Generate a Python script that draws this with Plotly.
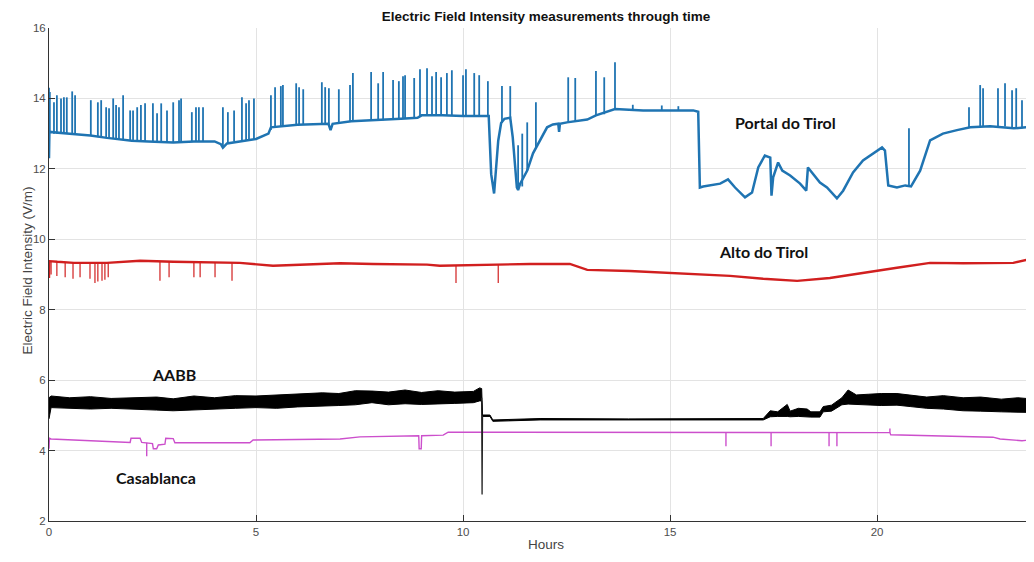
import plotly.graph_objects as go

# ---------------- data ----------------
# Portal do Tirol base line
portal_hours = [0.0, 0.01, 0.5, 1.0, 1.4, 2.0, 2.4, 3.0, 3.5, 4.0, 4.15, 4.2, 4.3, 4.7, 5.0, 5.3, 5.36,
                6.0, 6.5, 6.75, 6.8, 6.85, 7.3, 8.0, 8.5, 8.9, 9.0, 9.5, 10.0, 10.62, 10.68, 10.75,
                10.8, 10.85, 10.92, 11.0, 11.14, 11.2, 11.3, 11.33, 11.38, 11.55, 11.69, 11.91, 12.03,
                12.17, 12.3, 12.32, 12.34, 12.51, 13.0, 13.21, 13.67, 14.35, 15.0, 15.56, 15.68, 15.72,
                15.8, 15.97, 16.21, 16.4, 16.57, 16.81, 16.98, 17.13, 17.29, 17.42, 17.45, 17.49, 17.61,
                17.71, 17.9, 18.14, 18.29, 18.33, 18.45, 18.62, 18.79, 19.03, 19.18, 19.42, 19.66, 19.9,
                20.12, 20.19, 20.27, 20.48, 20.68, 20.82, 21.04, 21.28, 21.59, 21.93, 22.25, 22.73,
                23.3, 23.8]
portal_values = [12.3, 13.05, 13.0, 12.95, 12.88, 12.8, 12.78, 12.75, 12.78, 12.78, 12.7, 12.6, 12.72, 12.8,
                 12.85, 13.0, 13.18, 13.25, 13.28, 13.28, 13.1, 13.28, 13.35, 13.38, 13.42, 13.45, 13.52,
                 13.52, 13.5, 13.5, 11.85, 11.3, 12.2, 12.8, 13.3, 13.42, 13.45, 12.9, 11.47, 11.4, 11.58,
                 11.95, 12.44, 12.9, 13.18, 13.26, 13.28, 13.05, 13.28, 13.32, 13.4, 13.52, 13.7, 13.66,
                 13.66, 13.66, 13.62, 11.47, 11.5, 11.53, 11.58, 11.7, 11.47, 11.19, 11.33, 12.04, 12.38,
                 12.32, 11.24, 11.76, 12.18, 11.95, 11.81, 11.58, 11.38, 12.04, 11.87, 11.61, 11.47, 11.16,
                 11.38, 11.9, 12.24, 12.44, 12.61, 12.52, 11.53, 11.47, 11.53, 11.5, 11.95, 12.81, 13.0,
                 13.1, 13.18, 13.21, 13.15, 13.2]
# Portal do Tirol spikes: hour, base, peak
portal_spike_hours = [0.0, 0.02, 0.12, 0.19, 0.29, 0.36, 0.43, 0.56, 0.63, 1.01, 1.18, 1.26, 1.38, 1.45, 1.55,
                      1.62, 1.69, 1.79, 1.96, 2.03, 2.13, 2.22, 2.32, 2.51, 2.61, 2.71, 2.85, 3.0, 3.14,
                      3.19, 3.45, 3.55, 3.62, 3.72, 4.2, 4.32, 4.47, 4.66, 4.76, 4.83, 4.95,
                      5.36, 5.46, 5.6, 5.65, 5.97, 6.04, 6.14, 6.59, 6.67, 6.76, 7.0, 7.27, 7.34, 7.78,
                      7.95, 8.07, 8.31, 8.45, 8.55, 8.6, 8.82, 8.96, 9.13, 9.25, 9.35, 9.47, 9.61, 9.73,
                      10.0, 10.07, 10.27, 10.39, 10.6,
                      10.94, 11.14, 11.33, 11.43, 11.55, 11.76, 12.54, 12.71, 13.21, 13.41, 13.67, 14.1,
                      14.8, 15.2, 20.77, 22.22, 22.49, 22.56, 22.92, 23.09, 23.26, 23.36, 23.5, 23.62, 23.74]
portal_spike_bases = [13.05, 13.05, 13.0, 13.0, 13.0, 13.0, 13.0, 13.0, 13.0, 12.95, 12.9, 12.9, 12.88, 12.88,
                      12.85, 12.85, 12.85, 12.83, 12.8, 12.8, 12.8, 12.8, 12.78, 12.78, 12.78, 12.78,
                      12.75, 12.75, 12.75, 12.75, 12.78, 12.78, 12.78, 12.78, 12.65, 12.72, 12.78, 12.8,
                      12.8, 12.82, 12.85,
                      13.1, 13.18, 13.2, 13.2, 13.25, 13.25, 13.25, 13.28, 13.28, 13.28, 13.3, 13.35,
                      13.35, 13.36, 13.37, 13.38, 13.4, 13.42, 13.42, 13.42, 13.45, 13.5, 13.52, 13.52,
                      13.52, 13.52, 13.52, 13.52, 13.5, 13.5, 13.5, 13.5, 13.5,
                      13.3, 13.45, 11.4, 11.5, 11.95, 12.6, 13.33, 13.35, 13.5, 13.55, 13.68, 13.66,
                      13.66, 13.66, 11.5, 13.18, 13.2, 13.2, 13.2, 13.2, 13.18, 13.18, 13.15, 13.15, 13.2]
portal_spike_peaks = [14.3, 14.18, 13.89, 14.09, 14.0, 14.03, 14.03, 14.2, 14.09, 13.95, 13.89, 13.95, 13.75,
                      13.72, 14.0, 13.81, 13.75, 14.09, 13.66, 13.66, 13.75, 13.81, 13.86, 13.86, 13.58,
                      13.86, 13.66, 13.89, 13.95, 14.0, 13.61, 13.75, 13.75, 13.75, 13.75, 13.61, 13.66,
                      14.03, 13.86, 13.95, 14.0,
                      14.09, 14.32, 14.35, 14.38, 14.43, 14.32, 14.26, 14.46, 14.32, 14.29, 14.26, 14.38,
                      14.72, 14.75, 14.43, 14.75, 14.52, 14.49, 14.63, 14.66, 14.58, 14.83, 14.86, 14.63,
                      14.75, 14.6, 14.72, 14.8, 14.66, 14.83, 14.72, 14.66, 14.49,
                      14.35, 14.35, 12.67, 13.0, 13.32, 13.89, 14.6, 14.58, 14.78, 14.6, 15.03, 13.82,
                      13.8, 13.78, 13.15, 13.75, 14.38, 14.29, 14.29, 14.43, 14.23, 14.29, 13.95, 14.15,
                      14.38]

# Alto do Tirol base line
alto_hours = [0.0, 0.01, 0.2, 0.6, 1.4, 2.2, 3.0, 4.61, 5.41, 6.2, 7.03, 7.83, 8.5, 9.13, 9.44, 10.3,
              11.06, 11.62, 12.58, 13.0, 14.03, 15.0, 16.45, 17.25, 18.07, 18.86, 19.66, 20.48, 21.28,
              22.08, 23.29, 23.7, 23.8]
alto_values = [8.9, 9.38, 9.36, 9.33, 9.33, 9.39, 9.36, 9.33, 9.25, 9.28, 9.32, 9.3, 9.3, 9.28, 9.25, 9.27,
               9.27, 9.3, 9.3, 9.13, 9.1, 9.05, 8.96, 8.88, 8.82, 8.9, 9.05, 9.19, 9.33, 9.32, 9.33,
               9.44, 9.42]
# Alto do Tirol downward spikes: hour, base, low
alto_spike_hours = [0.05, 0.19, 0.39, 0.58, 0.75, 0.99, 1.11, 1.18, 1.28, 1.35, 1.43, 2.68, 2.9, 3.5, 3.65,
                    4.01, 4.42, 9.83, 10.85]
alto_spike_bases = [9.36, 9.36, 9.35, 9.34, 9.34, 9.33, 9.33, 9.33, 9.33, 9.33, 9.33, 9.37, 9.37, 9.36,
                    9.36, 9.35, 9.34, 9.27, 9.27]
alto_spike_lows = [9.0, 8.96, 8.92, 8.88, 8.92, 8.88, 8.76, 8.8, 8.82, 8.85, 8.92, 8.82, 8.92, 8.92, 8.92,
                   8.92, 8.82, 8.76, 8.76]

# AABB noise band: hour, top, bottom
aabb_hours = [0.0, 0.05, 0.5, 1.0, 1.5, 2.2, 2.6, 3.0, 3.5, 4.0, 4.5, 5.0, 5.5, 6.0, 6.6, 7.0, 7.4, 7.8,
              8.2, 8.6, 9.0, 9.4, 9.8, 10.25, 10.4, 10.45, 10.47, 10.65, 10.72, 11.86, 14.0, 17.25,
              17.42, 17.6, 17.83, 17.9, 18.1, 18.31, 18.4, 18.62, 18.7, 18.9, 19.15, 19.3, 19.5, 19.8,
              20.1, 20.48, 20.8, 21.2, 21.6, 22.08, 22.5, 23.0, 23.4, 23.8]
aabb_top = [5.5, 5.55, 5.5, 5.53, 5.48, 5.5, 5.52, 5.47, 5.55, 5.5, 5.56, 5.55, 5.58, 5.6, 5.64, 5.62, 5.7,
            5.69, 5.66, 5.72, 5.65, 5.7, 5.66, 5.68, 5.78, 5.76, 5.01, 5.01, 4.87, 4.91, 4.9, 4.91,
            5.13, 5.1, 5.31, 5.12, 5.2, 5.18, 5.1, 5.1, 5.25, 5.29, 5.5, 5.72, 5.58, 5.6, 5.62, 5.62,
            5.58, 5.52, 5.56, 5.5, 5.52, 5.46, 5.5, 5.46]
aabb_bottom = [4.9, 5.22, 5.2, 5.18, 5.2, 5.17, 5.15, 5.13, 5.17, 5.18, 5.2, 5.22, 5.2, 5.24, 5.27, 5.28,
               5.3, 5.36, 5.3, 5.33, 5.31, 5.33, 5.34, 5.36, 5.41, 5.41, 4.97, 4.97, 4.83, 4.87, 4.86,
               4.87, 4.96, 4.97, 4.97, 4.96, 4.97, 4.96, 4.95, 4.95, 5.1, 5.12, 5.3, 5.32, 5.3, 5.29,
               5.28, 5.29, 5.25, 5.2, 5.18, 5.13, 5.12, 5.1, 5.1, 5.08]
aabb_drop_hours = [10.45, 10.46, 10.47]
aabb_drop_values = [5.5, 2.75, 4.99]

# Casablanca base line
casa_hours = [0.0, 0.01, 0.05, 1.0, 1.96, 1.98, 2.2, 2.24, 2.44, 2.5, 2.52, 2.6, 2.64, 2.8, 2.82, 3.0,
              3.04, 4.85, 4.93, 7.03, 7.51, 8.89, 8.93, 8.94, 8.99, 9.0, 9.52, 9.64, 11.86, 15.0, 17.0,
              20.31, 20.33, 22.08, 22.8, 22.97, 23.5, 23.8]
casa_values = [4.05, 4.35, 4.33, 4.28, 4.23, 4.35, 4.35, 4.23, 4.2, 4.2, 4.05, 4.05, 4.16, 4.18, 4.35,
               4.34, 4.22, 4.22, 4.3, 4.33, 4.39, 4.42, 4.42, 4.05, 4.05, 4.42, 4.44, 4.52, 4.52, 4.5,
               4.51, 4.51, 4.45, 4.39, 4.38, 4.33, 4.28, 4.31]
casa_spike_hours = [2.36, 16.35, 17.44, 18.84, 19.03, 20.31]
casa_spike_bases = [4.22, 4.5, 4.5, 4.51, 4.51, 4.51]
casa_spike_tips = [3.84, 4.12, 4.12, 4.12, 4.12, 4.63]

x_ticks = [0, 5, 10, 15, 20]
y_ticks = [2, 4, 6, 8, 10, 12, 14, 16]

# series labels: text, hour, value
label_texts = ["Portal do Tirol", "Alto do Tirol", "AABB", "Casablanca"]
label_hours = [17.78, 17.25, 3.02, 2.58]
label_values = [13.32, 9.65, 6.17, 3.23]

BLUE = "#1f74b2"
RED = "#d11f1f"
BLACK = "#000000"
PINK = "#cc4fcc"

# the page body has an 8 px margin: the figure is sized so that it ends at the window edge
FIG_W, FIG_H = 1026, 554


def segments(xs, y0s, y1s):
    sx, sy = [], []
    for x, a, b in zip(xs, y0s, y1s):
        sx += [x, x, None]
        sy += [a, b, None]
    return sx, sy


fig = go.Figure()

# Casablanca
fig.add_trace(go.Scatter(x=casa_hours, y=casa_values, mode="lines",
                         line=dict(color=PINK, width=1.4), hoverinfo="skip"))
sx, sy = segments(casa_spike_hours, casa_spike_bases, casa_spike_tips)
fig.add_trace(go.Scatter(x=sx, y=sy, mode="lines", line=dict(color=PINK, width=1.4), hoverinfo="skip"))

# AABB band
fig.add_trace(go.Scatter(x=aabb_hours + aabb_hours[::-1], y=aabb_top + aabb_bottom[::-1],
                         mode="lines", fill="toself", fillcolor=BLACK,
                         line=dict(color=BLACK, width=1), hoverinfo="skip"))
fig.add_trace(go.Scatter(x=aabb_drop_hours, y=aabb_drop_values, mode="lines",
                         line=dict(color="#222222", width=1.3), hoverinfo="skip"))

# Alto do Tirol
fig.add_trace(go.Scatter(x=alto_hours, y=alto_values, mode="lines",
                         line=dict(color=RED, width=2.4), hoverinfo="skip"))
sx, sy = segments(alto_spike_hours, alto_spike_bases, alto_spike_lows)
fig.add_trace(go.Scatter(x=sx, y=sy, mode="lines", line=dict(color=RED, width=1.2), hoverinfo="skip"))

# Portal do Tirol
fig.add_trace(go.Scatter(x=portal_hours, y=portal_values, mode="lines",
                         line=dict(color=BLUE, width=2.5), hoverinfo="skip"))
sx, sy = segments(portal_spike_hours, portal_spike_bases, portal_spike_peaks)
fig.add_trace(go.Scatter(x=sx, y=sy, mode="lines", line=dict(color=BLUE, width=1.8), hoverinfo="skip"))

for t, hx, vy in zip(label_texts, label_hours, label_values):
    fig.add_annotation(x=hx, y=vy, xref="x", yref="y", text="<b>%s</b>" % t, showarrow=False,
                       font=dict(family="Lato", size=16, color="#111111"))

# axis titles
fig.add_annotation(xref="paper", yref="paper", x=(546 - 49) / 985, y=0, yshift=-33,
                   text="Hours", showarrow=False,
                   font=dict(family="Liberation Sans", size=13.5, color="#444444"))
fig.add_annotation(xref="paper", yref="paper", x=0, xshift=-31, y=0.507,
                   text="Electric Field Intensity (V/m)", textangle=-90, showarrow=False,
                   font=dict(family="Liberation Sans", size=13.5, color="#444444"))

fig.update_layout(
    width=FIG_W, height=FIG_H,
    margin=dict(l=41, r=0, t=20, b=41, autoexpand=False),
    paper_bgcolor="white", plot_bgcolor="white",
    showlegend=False,
    title=dict(text="<b>Electric Field Intensity measurements through time</b>",
               x=538 / FIG_W, xref="container", xanchor="center",
               y=1 - 8 / FIG_H, yref="container", yanchor="middle",
               font=dict(family="Liberation Sans", size=13.5, color="#111111")),
)
fig.update_xaxes(range=[0, 23.79], tickvals=x_ticks, ticks="inside", ticklen=6, tickcolor="#333333",
                 showline=True, linecolor="#333333", linewidth=1, mirror=False, automargin=False,
                 showgrid=True, gridcolor="#e3e3e3", gridwidth=1, zeroline=False,
                 tickfont=dict(family="Liberation Sans", size=11.5, color="#4d4d4d"))
fig.update_yaxes(range=[2, 16], tickvals=y_ticks, ticks="inside", ticklen=6, tickcolor="#333333",
                 showline=True, linecolor="#333333", linewidth=1, mirror=False, automargin=False,
                 showgrid=True, gridcolor="#e3e3e3", gridwidth=1, zeroline=False,
                 tickfont=dict(family="Liberation Sans", size=11.5, color="#4d4d4d"))

fig.write_html("out.html")
